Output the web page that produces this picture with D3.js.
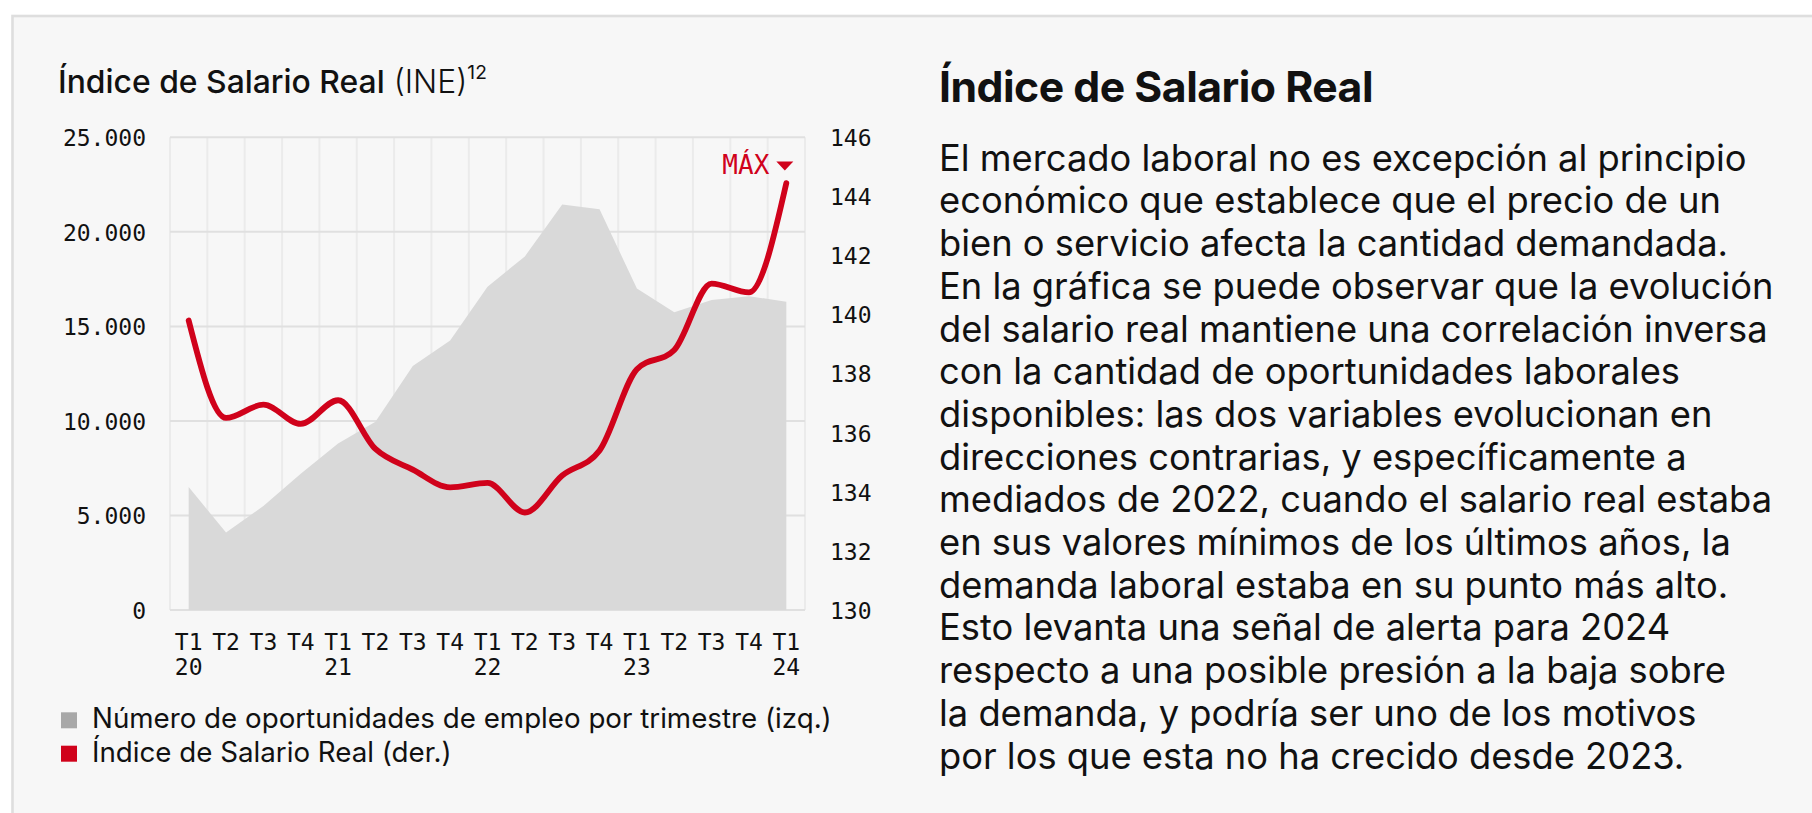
<!DOCTYPE html>
<html><head><meta charset="utf-8">
<script src="https://cdn.jsdelivr.net/npm/d3@7"></script>
<style>
html,body{margin:0;padding:0;background:#fff;}
svg{display:block;}
</style></head>
<body>
<svg id="c" width="1812" height="813"></svg>
<script>
// ---------- DATA ----------
const categories = ["T1-20","T2-20","T3-20","T4-20","T1-21","T2-21","T3-21","T4-21","T1-22","T2-22","T3-22","T4-22","T1-23","T2-23","T3-23","T4-23","T1-24"];
const quarterLabels = ["T1","T2","T3","T4","T1","T2","T3","T4","T1","T2","T3","T4","T1","T2","T3","T4","T1"];
const yearLabels = ["20","","","","21","","","","22","","","","23","","","","24"];
const opportunities = [6500,4100,5500,7200,8800,9950,12900,14250,17100,18700,21450,21200,17000,15750,16400,16600,16300];
const salaryIndex = [139.8,136.5,136.95,136.3,137.1,135.45,134.75,134.15,134.3,133.3,134.55,135.4,138.15,138.8,141.05,140.75,144.45];
const leftTicks = [0,5000,10000,15000,20000,25000];
const leftTickLabels = ["0","5.000","10.000","15.000","20.000","25.000"];
const rightTicks = [130,132,134,136,138,140,142,144,146];
const rightTickLabels = ["130","132","134","136","138","140","142","144","146"];
const chartTitle = ["Índice de Salario Real", " (INE)", "12"];
const legendLabels = ["Número de oportunidades de empleo por trimestre (izq.)","Índice de Salario Real (der.)"];
const maxLabel = "MÁX";
const heading = "Índice de Salario Real";
const bodyLines = [
"El mercado laboral no es excepción al principio",
"económico que establece que el precio de un",
"bien o servicio afecta la cantidad demandada.",
"En la gráfica se puede observar que la evolución",
"del salario real mantiene una correlación inversa",
"con la cantidad de oportunidades laborales",
"disponibles: las dos variables evolucionan en",
"direcciones contrarias, y específicamente a",
"mediados de 2022, cuando el salario real estaba",
"en sus valores mínimos de los últimos años, la",
"demanda laboral estaba en su punto más alto.",
"Esto levanta una señal de alerta para 2024",
"respecto a una posible presión a la baja sobre",
"la demanda, y podría ser uno de los motivos",
"por los que esta no ha crecido desde 2023."
];

// ---------- STYLE ----------
const RED = "#d0021b", AREA = "#d9d9d9", LEGGRAY = "#a8a8a8";
const SANS = "Inter, 'Liberation Sans', sans-serif";
const MONO = "'DejaVu Sans Mono', monospace";
const INK = "#111";
const MONO_SIZE = 23;

const svg = d3.select("#c");

// card
svg.append("rect").attr("x",12.5).attr("y",16).attr("width",1900).attr("height",900)
  .attr("fill","#f7f7f7").attr("stroke","#dedede").attr("stroke-width",2.6);

function fit(sel, target){
  const w = sel.node().getComputedTextLength();
  const fs = parseFloat(sel.attr("font-size"));
  sel.attr("font-size", fs*target/w);
  return sel;
}

// ---------- CHART ----------
const L = 170, R = 805, T = 137.3, B = 610;
const x = d3.scaleBand().domain(categories).range([L,R]).padding(0);
const bw = x.bandwidth();
const cx = c => x(c) + bw/2;
const yL = d3.scaleLinear().domain([0,25000]).range([B,T]);
const yR = d3.scaleLinear().domain([130,146]).range([B,T]);

const g = svg.append("g");

// vertical grid
const vpos = categories.map(c => x(c)).concat([R]);
g.append("g").selectAll("line").data(vpos).join("line")
  .attr("x1",d=>d).attr("x2",d=>d).attr("y1",T).attr("y2",B)
  .attr("stroke","#ebebeb").attr("stroke-width",2);
// horizontal grid
g.append("g").selectAll("line").data(leftTicks).join("line")
  .attr("x1",L).attr("x2",R).attr("y1",d=>yL(d)).attr("y2",d=>yL(d))
  .attr("stroke","#e0e0e0").attr("stroke-width",2);

// area
const area = d3.area().x((d,i)=>cx(categories[i])).y0(yL(0)).y1(d=>yL(d));
g.append("path").datum(opportunities).attr("d",area).attr("fill",AREA);

// line
const line = d3.line().x((d,i)=>cx(categories[i])).y(d=>yR(d)).curve(d3.curveMonotoneX);
g.append("path").datum(salaryIndex).attr("d",line).attr("fill","none")
  .attr("stroke",RED).attr("stroke-width",5.8).attr("stroke-linecap","round").attr("stroke-linejoin","round");

// MAX annotation
const lastC = categories[categories.length-1];
const lx = cx(lastC), ly = yR(salaryIndex[salaryIndex.length-1]);
g.append("path").attr("d", d3.line()([[lx-10,ly-21.5],[lx+7,ly-21.5],[lx-1.5,ly-12.5]]) + "Z").attr("fill",RED);
g.append("text").attr("x",lx-17).attr("y",ly-9.5).attr("text-anchor","end")
  .attr("font-family",MONO).attr("font-size",26).attr("fill",RED).text(maxLabel);

// left axis
const axL = g.append("g").attr("transform",`translate(${L},0)`)
  .call(d3.axisLeft(yL).tickValues(leftTicks).tickSize(0).tickPadding(24).tickFormat((d,i)=>leftTickLabels[i]));
axL.select(".domain").remove();
axL.selectAll("text").attr("font-family",MONO).attr("font-size",MONO_SIZE).attr("fill",INK).attr("dy","0.36em");

// right axis
const axR = g.append("g").attr("transform",`translate(${R},0)`)
  .call(d3.axisRight(yR).tickValues(rightTicks).tickSize(0).tickPadding(25).tickFormat((d,i)=>rightTickLabels[i]));
axR.select(".domain").remove();
axR.selectAll("text").attr("font-family",MONO).attr("font-size",MONO_SIZE).attr("fill",INK).attr("dy","0.36em");

// bottom axis
const axB = g.append("g").attr("transform",`translate(0,${B})`)
  .call(d3.axisBottom(x).tickSize(0).tickFormat(""));
axB.select(".domain").remove();
axB.selectAll(".tick text").each(function(d,i){
  const t = d3.select(this).attr("y",0).attr("dy",null)
    .attr("font-family",MONO).attr("font-size",MONO_SIZE).attr("fill",INK).text(null);
  t.append("tspan").attr("x",0).attr("y",40).text(quarterLabels[i]);
  if (yearLabels[i]) t.append("tspan").attr("x",0).attr("y",65).text(yearLabels[i]);
});

// chart title
const ttl = svg.append("text").attr("x",58).attr("y",93.3).attr("font-family",SANS)
  .attr("font-size",29).attr("fill",INK);
ttl.append("tspan").attr("font-weight",500).text(chartTitle[0]);
ttl.append("tspan").attr("font-weight",300).text(chartTitle[1]);
ttl.append("tspan").attr("font-weight",400).style("font-size","0.6em").attr("dy","-0.75em").text(chartTitle[2]);
fit(ttl, 429);

// legend
const legColors = [LEGGRAY, RED];
const legBase = [728.3, 761.7];
legendLabels.forEach((lab,i)=>{
  svg.append("rect").attr("x",61).attr("y",legBase[i]-16).attr("width",16).attr("height",16).attr("fill",legColors[i]);
});
const leg0 = svg.append("text").attr("x",92).attr("y",legBase[0]).attr("font-family",SANS)
  .attr("font-size",24).attr("fill",INK).text(legendLabels[0]);
fit(leg0, 740);
svg.append("text").attr("x",92).attr("y",legBase[1]).attr("font-family",SANS)
  .attr("font-size",leg0.attr("font-size")).attr("fill",INK).text(legendLabels[1]);

// ---------- TEXT PANEL ----------
const hd = svg.append("text").attr("x",939).attr("y",101.7).attr("font-family",SANS)
  .attr("font-weight",700).attr("font-size",39).attr("letter-spacing",-0.5).attr("fill",INK).text(heading);
fit(hd, 433);

const body = svg.append("g");
const probe = body.append("text").attr("font-family",SANS).attr("font-size",29).text(bodyLines[4]);
fit(probe, 829);
const bfs = probe.attr("font-size");
probe.remove();
body.selectAll("text").data(bodyLines).join("text")
  .attr("x",939).attr("y",(d,i)=>170.7 + i*42.7)
  .attr("font-family",SANS).attr("font-size",bfs).attr("fill",INK).text(d=>d);
</script>
</body></html>
